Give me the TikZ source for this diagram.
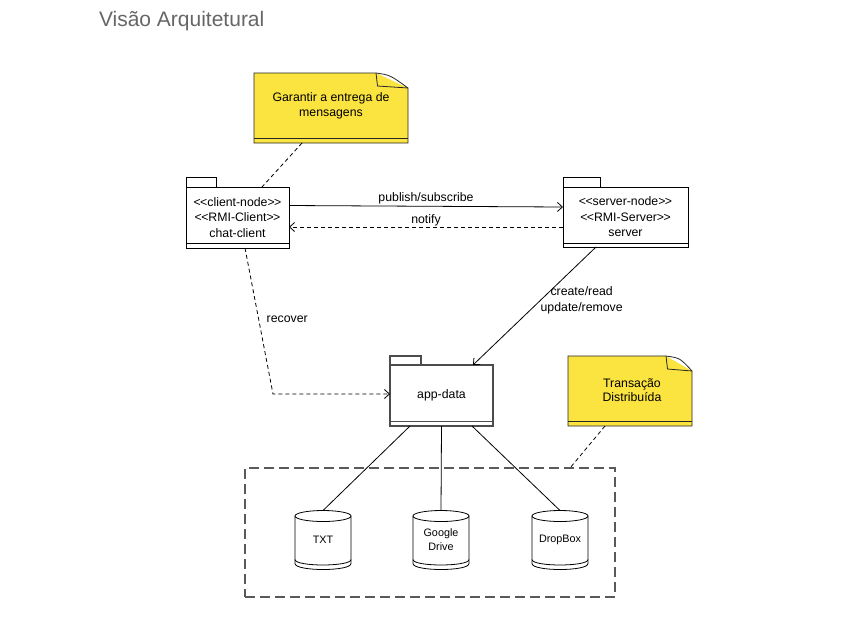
\documentclass[tikz,border=0pt]{standalone}
\usepackage{fontspec}
\setmainfont{Liberation Sans}
\usetikzlibrary{arrows.meta}
\definecolor{noteyellow}{RGB}{251,228,64}
\newcommand\dbcyl[4]{%
  \node[cyl] (#1) at (#2,540) {#3};
  \draw[cylline] ([yshift=-5.5pt]#1.north west) -- ([yshift=6pt]#1.south west)
     .. controls +(0,-8pt) and +(0,-8pt) .. ([yshift=6pt]#1.south east)
     -- ([yshift=-5.5pt]#1.north east);
  \draw[cylline] ([yshift=10pt]#1.south west) .. controls +(0,-7.3pt) and +(0,-7.3pt) .. ([yshift=10pt]#1.south east);
  \draw[cylline] ([yshift=-5.5pt]#1.north) ellipse [x radius=28, y radius=5.5];
}
\newcommand\notebg[3]{% name, fold width, fold height
  \fill[noteyellow] (#1.north west) -- ([xshift=-#2pt]#1.north east) -- ([yshift=-#3pt]#1.north east) -- (#1.south east) -- (#1.south west) -- cycle;
  \draw[noteline] (#1.north west) -- ([xshift=-#2pt]#1.north east)
     .. controls ([xshift=-#2pt+14pt,yshift=-2pt]#1.north east) .. ([yshift=-#3pt]#1.north east)
     -- (#1.south east) -- (#1.south west) -- cycle;
  \draw[noteline] ([xshift=-#2pt]#1.north east) -- ([xshift=-#2pt+1.5pt,yshift=-#3pt+2pt]#1.north east) -- ([yshift=-#3pt]#1.north east);
  \draw[noteline] ([yshift=5pt]#1.south west) -- ([yshift=5pt]#1.south east);
}
\newcommand\stLt{\textless\kern-0.6pt\textless}
\newcommand\stGt{\textgreater\kern-0.6pt\textgreater}
\begin{document}
\begin{tikzpicture}[x=1pt,y=-1pt,
  every node/.style={inner sep=0pt, outer sep=0pt},
  pkg/.style={draw, line width=0.9pt, align=center, font=\fontsize{12.3}{15.5}\selectfont},
  pkgline/.style={line width=0.9pt},
  appline/.style={line width=1.2pt, draw=black!70},
  notebox/.style={align=center, font=\fontsize{12.3}{14.5}\selectfont},
  noteline/.style={line width=0.8pt, draw=black!85},
  cyl/.style={minimum width=56pt, minimum height=59pt, align=center, font=\fontsize{10.8}{14}\selectfont},
  cylline/.style={line width=0.8pt},
  lbl/.style={font=\fontsize{12.3}{15.5}\selectfont, align=center},
  arr/.style={line width=0.8pt, -{Straight Barb[length=5pt,width=9pt]}},
  dasharr/.style={line width=0.8pt, dash pattern=on 4pt off 3pt, -{Straight Barb[length=5pt,width=9pt]}},
  notelink/.style={line width=0.8pt, dash pattern=on 4pt off 3pt},
  plainlink/.style={line width=0.8pt},
  storebox/.style={draw=black!65, line width=1.4pt, dash pattern=on 10pt off 5pt, minimum width=370pt, minimum height=129pt}
]
\useasboundingbox (0,0) rectangle (858,622);

% title
\node[anchor=base west, font=\fontsize{21}{25}\selectfont, text=black!60] (title) at (99,26) {Visão Arquitetural};

% notes
\node[notebox, minimum width=154pt, minimum height=70pt] (note1) at (331,108) {};
\notebg{note1}{32}{15}
\node[notebox] (note1t) at (331,106) {Garantir a entrega de\\mensagens};

\node[notebox, minimum width=124pt, minimum height=70pt] (note2) at (630,391) {};
\notebg{note2}{26}{15}
\node[notebox] (note2t) at (632,390) {Transação\\Distribuída};

% packages
\node[pkg, minimum width=103pt, minimum height=61pt] (client) at (237.5,217.5) {\stLt client-node\stGt\\\stLt RMI-Client\stGt\\chat-client};
\draw[pkgline] (client.north west) -- ++(0,-10) -- ++(30,0) -- ++(0,10);
\draw[pkgline] ([yshift=5pt]client.south west) -- ([yshift=5pt]client.south east);

\node[pkg, minimum width=125pt, minimum height=60pt] (server) at (625.5,217) {\stLt server-node\stGt\\\stLt RMI-Server\stGt\\server};
\draw[pkgline] (server.north west) -- ++(0,-10) -- ++(37,0) -- ++(0,10);
\draw[pkgline] ([yshift=4pt]server.south west) -- ([yshift=4pt]server.south east);

\node[pkg, appline, minimum width=103pt, minimum height=61pt] (app) at (441.5,395.5) {app-data};
\draw[appline] (app.north west) -- ++(0,-9) -- ++(31,0) -- ++(0,9);
\draw[appline] ([yshift=4.5pt]app.south west) -- ([yshift=4.5pt]app.south east);

% storage group
\node[storebox] (store) at (430,532.5) {};
\dbcyl{txt}{323}{TXT}{}
\dbcyl{gdrive}{441}{Google\\Drive}{}
\dbcyl{dropbox}{560}{DropBox}{}

% connectors
\draw[arr] ([yshift=12pt]client.east) -- node[lbl, above=2pt] (lpub) {publish/subscribe} ([yshift=10pt]server.west);
\draw[dasharr] ([yshift=-10pt]server.west) -- node[lbl, above=1pt] (lnot) {notify} ([yshift=-9.5pt]client.east);
\draw[arr] ([xshift=-29.5pt]server.south) -- node[lbl, pos=0.45, anchor=west, xshift=0pt] (lcrud) {create/read\\update/remove} ([xshift=31.5pt]app.north);
\coordinate (rc) at (273,394);
\draw[dasharr] ([xshift=7.5pt]client.south) -- node[lbl, pos=0.49, right=8pt] (lrec) {recover} (rc) -- (rc -| app.west);
\draw[notelink] ([xshift=-29pt]note1.south) -- ([xshift=24.5pt]client.north);
\draw[notelink] ([xshift=-25pt]note2.south) -- ([xshift=140pt]store.north);
\draw[plainlink] ([xshift=-31.5pt]app.south) -- (txt.north);
\draw[plainlink] (app.south) -- (gdrive.north);
\draw[plainlink] ([xshift=30.5pt]app.south) -- (dropbox.north);
\end{tikzpicture}
\end{document}
